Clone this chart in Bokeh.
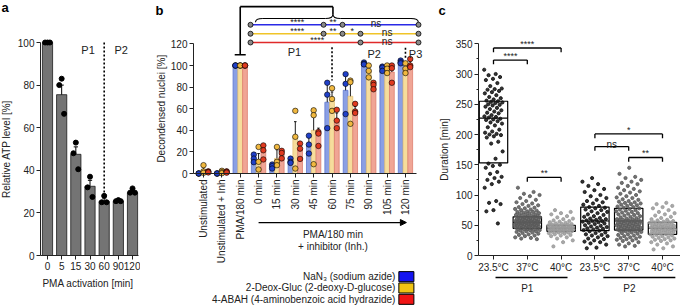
import math
from bokeh.plotting import figure
from bokeh.layouts import row
from bokeh.models import Range1d, FixedTicker, LinearAxis, Arrow, NormalHead, Grid
from bokeh.embed import file_html
from bokeh.resources import INLINE
from bokeh.core.properties import value

FONT = "Liberation Sans"

# ---------------- Panel a data ----------------
atp_cats = ["0", "5", "15", "30", "60", "90", "120"]
atp_mean = [100, 75.5, 47.5, 32.5, 25.5, 25.5, 29.5]
atp_sem = [0.4, 4.5, 3.5, 2.8, 1.5, 0.4, 1.0]
atp_pts = [[100, 100, 100], [83, 80, 66.5], [53, 48, 40.5], [37, 32, 27.5],
           [28, 25, 25], [26, 25.5, 25.5], [31.5, 29.5, 29.5]]

# ---------------- Panel b data ----------------
b_cats = ["Unstimulated", "Unstimulated + Inh", "PMA/180 min", "0 min", "15 min",
          "30 min", "45 min", "60 min", "75 min", "90 min", "105 min", "120 min"]
b_series = ["NaN\u2083 (sodium azide)", "2-Deox-Gluc (2-deoxy-D-glucose)",
            "4-ABAH (4-aminobenzoic acid hydrazide)"]
nan3_mean = [0, 0, 100, 13, 6.5, 11, 26, 66, 77, 101, 97, 103]
nan3_err = [0, 0, 0, 4, 2, 2, 8, 18, 15, 1, 2, 1]
nan3_pts = [[0, 0, 0], [0, 0, 0], [100, 100, 100], [17.5, 13.8, 10.5], [8.3, 6.8, 4.6],
            [13.8, 10.8, 9.8], [35, 26.8, 18.5], [84, 73, 42], [92, 83, 55],
            [102.8, 101.5, 101], [99, 98, 95], [104.6, 103, 102]]
deox_mean = [3, 1.5, 100, 10.5, 14, 34, 40, 67.5, 71.5, 95, 97, 98]
deox_err = [3, 1, 0, 8, 8, 14, 14, 8, 15, 4, 3, 3]
deox_pts = [[7.7, 2, 0.6], [2.5, 1.2, 0.3], [100, 100, 100], [24.6, 10.8, 3.7],
            [24.6, 10.8, 7.7], [58, 34, 4.6], [58.5, 54, 8.6], [79, 69, 58],
            [86, 84.6, 46], [100, 95, 89], [100, 97, 93], [102, 97, 93]]
abah_mean = [1.5, 1.2, 100, 21, 18, 22.5, 37, 50, 58, 80, 94, 101]
abah_err = [0.3, 0.4, 0, 5, 3, 5, 5, 6, 4, 3, 6, 3]
abah_pts = [[2, 1.5, 1], [2, 1.5, 0.8], [100, 100, 100], [26, 21.5, 13], [21, 19, 14],
            [27.7, 23, 13.5], [38.5, 37, 25.5], [59, 49, 42], [64.5, 57.4, 56],
            [84, 82, 78], [100, 97.5, 84], [106, 100, 98.5]]

# significance rows (per inhibitor): circle positions and labels
sig_circles = [[2.56, 6.54, 7.57, 11.71],
               [2.56, 6.54, 7.57, 8.55, 11.71],
               [2.56, 8.55, 11.71]]
sig_labels = [[("****", 5.1), ("**", 7.05), ("ns", 9.4)],
              [("****", 5.1), ("**", 7.05), ("*", 8.1), ("ns", 10.0)],
              [("****", 6.2), ("ns", 10.0)]]

# ---------------- Panel c data ----------------
c_cats = ["23.5\u00b0C", "37\u00b0C", "40\u00b0C", "23.5\u00b0C", "37\u00b0C", "40\u00b0C"]
c_groups = ["P1", "P2"]
g1 = [307, 300, 298, 295, 292, 290, 285, 280, 276, 275, 274, 272, 270, 268, 265, 262, 260,
      258, 256, 255, 254, 253, 252, 250, 249, 248, 246, 244, 242, 240, 238, 236, 235, 232,
      230, 229, 228, 226, 225, 224, 222, 220, 218, 215, 212, 208, 205, 203, 201, 200, 199,
      197, 195, 188, 185, 172, 160, 152, 150, 148, 145, 138, 135, 130, 128, 125, 122, 118,
      112, 90, 87, 85, 75, 73, 53]
g2 = [112, 105, 102, 100, 98, 95, 92, 90, 88, 86, 85, 83, 82, 80, 79, 78, 77, 76, 75, 74,
      73, 72, 72, 71, 70, 70, 69, 68, 68, 67, 66, 66, 65, 65, 64, 64, 63, 63, 62, 62, 61,
      61, 60, 60, 60, 59, 59, 58, 58, 58, 57, 57, 57, 56, 56, 56, 55, 55, 55, 55, 54, 54,
      54, 53, 53, 53, 52, 52, 52, 51, 51, 51, 50, 50, 50, 49, 49, 49, 48, 48, 48, 47, 47,
      46, 46, 45, 45, 45, 44, 44, 43, 43, 42, 42, 41, 40, 40, 39, 38, 37, 36, 35, 34, 33,
      32, 30, 29, 28, 27]
g3 = [75, 72, 70, 68, 65, 63, 61, 60, 58, 57, 56, 55, 54, 53, 52, 52, 51, 51, 50, 50, 49,
      49, 48, 48, 48, 47, 47, 47, 46, 46, 46, 45, 45, 45, 45, 44, 44, 44, 43, 43, 43, 42,
      42, 42, 41, 41, 40, 40, 40, 39, 39, 38, 38, 37, 36, 35, 34, 33, 32, 30, 28, 25, 22, 15]
g4 = [128, 122, 118, 115, 110, 108, 105, 100, 98, 95, 92, 90, 88, 86, 84, 82, 80, 79, 78,
      76, 75, 73, 72, 70, 68, 67, 65, 64, 62, 61, 60, 59, 58, 57, 57, 56, 55, 54, 53, 52,
      50, 49, 48, 47, 46, 45, 44, 43, 42, 41, 40, 38, 37, 35, 34, 33, 32, 30, 28, 27, 25,
      23, 22, 20, 18, 13, 12]
g5 = [145, 135, 130, 128, 125, 122, 120, 118, 115, 112, 110, 108, 106, 104, 102, 100, 98,
      96, 95, 93, 92, 90, 89, 88, 87, 86, 85, 84, 83, 82, 81, 80, 79, 78, 77, 76, 75, 74,
      73, 72, 71, 70, 69, 68, 67, 66, 65, 64, 63, 62, 61, 60, 60, 59, 59, 58, 58, 57, 57,
      56, 56, 55, 55, 54, 54, 53, 53, 52, 52, 51, 51, 50, 50, 49, 49, 48, 48, 47, 47, 46,
      46, 45, 45, 44, 44, 43, 43, 42, 42, 41, 41, 40, 40, 39, 38, 37, 36, 35, 34, 33, 32,
      31, 30, 29, 28, 27, 26, 25, 24, 22, 20, 18, 16, 15]
g6 = [87, 85, 82, 80, 78, 75, 72, 70, 68, 66, 64, 62, 60, 59, 58, 57, 56, 55, 55, 54, 54,
      53, 52, 52, 51, 50, 50, 49, 49, 48, 48, 47, 47, 46, 46, 45, 45, 45, 44, 44, 43, 43,
      42, 42, 41, 41, 40, 40, 39, 39, 38, 37, 36, 36, 35, 35, 34, 33, 32, 31, 30, 29, 28,
      27, 26, 25, 24, 22, 20, 18, 15, 12, 10]
box_q1 = [153, 45, 40, 41, 42, 35]
box_med = [227, 55, 45, 57, 57, 45]
box_q3 = [255, 64, 50, 80, 78, 55]
c_pairs = [(0, 2), (0, 1), (1, 2), (3, 5), (3, 4), (4, 5)]
c_pair_y = [343, 323, 129, 201, 180, 162]
c_pair_txt = ["****", "****", "**", "*", "ns", "**"]

INK = "#222222"


def make_fig(width, xr, yr, y_at, yticks, ybounds, minor=None):
    p = figure(width=width, height=305, x_range=Range1d(*xr), y_range=Range1d(*yr),
               output_backend="svg", toolbar_location=None, y_axis_location=None,
               min_border_left=0, min_border_right=0, min_border_top=0, min_border_bottom=0)
    # drop every grid the figure created
    for g in p.select(type=Grid):
        g.grid_line_color = None
        g.minor_grid_line_color = None
        g.visible = False
    p.center = [r for r in p.center if not isinstance(r, Grid)]
    yax = LinearAxis(fixed_location=y_at, ticker=FixedTicker(ticks=yticks, minor_ticks=minor or []),
                     bounds=ybounds)
    p.add_layout(yax, "left")
    p.outline_line_color = None
    p.background_fill_color = "white"
    p.border_fill_color = "white"
    for ax in p.axis:
        ax.major_label_text_font = FONT
        ax.major_label_text_font_size = "10px"
        ax.major_label_text_color = INK
        ax.minor_tick_line_color = INK if (minor and ax is yax) else None
        ax.minor_tick_out = 2
        ax.minor_tick_in = 0
        ax.major_tick_in = 0
        ax.major_tick_out = 4
        ax.major_label_standoff = 2
        ax.axis_line_color = INK
        ax.major_tick_line_color = INK
    return p


def txt(p, x, y, s, size="10px", align="center", baseline="middle", angle=0, bold=False, color=INK):
    p.text(x=[x], y=[y], text=[s], text_font=value(FONT), text_font_size=size,
           text_align=align, text_baseline=baseline, angle=angle, text_color=color,
           text_font_style="bold" if bold else "normal")


def cat_xaxis(p, ticks, labels, bounds):
    ax = p.xaxis[0]
    ax.fixed_location = 0
    ax.ticker = FixedTicker(ticks=ticks)
    ax.major_label_overrides = {i: c for i, c in zip(ticks, labels)}
    ax.bounds = bounds


# =============== Panel a ===============
A_PX = 2.13
pa = make_fig(140, (-47 / 14.17, 93 / 14.17), (-50 / A_PX, 255 / A_PX), -7 / 14.17,
              [0, 20, 40, 60, 80, 100], (0, 100))
xa = list(range(len(atp_cats)))
pa.vbar(x=xa, top=atp_mean, width=0.72, fill_color="#747474", line_color="#1a1a1a", line_width=0.8)
a_top = [m + s for m, s in zip(atp_mean, atp_sem)]
pa.segment(x0=xa, y0=atp_mean, x1=xa, y1=a_top, line_color="black", line_width=1)
pa.segment(x0=[x - 0.15 for x in xa], y0=a_top, x1=[x + 0.15 for x in xa], y1=a_top,
           line_color="black", line_width=1)
off = [0, -0.17, 0.17]
px, py = [], []
for i, pts in enumerate(atp_pts):
    for k, v in enumerate(pts):
        px.append(i + off[k])
        py.append(v)
pa.scatter(x=px, y=py, size=5, color="black")
i60 = atp_cats.index("60")
pa.segment(x0=[i60], y0=[100], x1=[i60], y1=[29], line_color="black", line_width=1.6, line_dash="2 2")
txt(pa, 2.86, 96.5, "P1", size="11px")
txt(pa, 5.2, 96.5, "P2", size="11px")
cat_xaxis(pa, xa, atp_cats, (-7 / 14.17, 6.42))
txt(pa, 2.86, -28 / A_PX, "PMA activation [min]")
txt(pa, -41.5 / 14.17, 50, "Relative ATP level [%]", angle=math.pi / 2)
txt(pa, -46 / 14.17, 248 / A_PX, "a", size="13px", align="left", bold=True, color="black")

# =============== Panel b ===============
B_PX = 1.08  # pixels per % unit
pb = make_fig(296, (-63 / 18.36, 233 / 18.36), (-132 / B_PX, 173 / B_PX), -10 / 18.36,
              [0, 20, 40, 60, 80, 100, 120], (0, 120))
bar_fill = ["#8a9fe4", "#f6dd9c", "#f0a595"]
bar_line = ["#5f78cf", "#e3c277", "#dd7f6f"]
pt_fill = ["#2040c8", "#f0b840", "#e03a20"]
leg_fill = ["#1414f0", "#f0c414", "#f01414"]
means = [nan3_mean, deox_mean, abah_mean]
errs = [nan3_err, deox_err, abah_err]
ptss = [nan3_pts, deox_pts, abah_pts]
bw = 0.26
xb = list(range(len(b_cats)))
for k in range(3):
    xs = [i + (k - 1) * bw for i in xb]
    pb.vbar(x=xs, top=means[k], width=bw, fill_color=bar_fill[k], line_color=bar_line[k], line_width=0.8)
for k in range(3):
    xs = [i + (k - 1) * bw for i in xb]
    tops = [m + e for m, e in zip(means[k], errs[k])]
    pb.segment(x0=xs, y0=means[k], x1=xs, y1=tops, line_color="black", line_width=0.9)
    pb.segment(x0=[x - 0.07 for x in xs], y0=tops, x1=[x + 0.07 for x in xs], y1=tops,
               line_color="black", line_width=0.9)
for k in range(3):
    px, py = [], []
    for i, pts in enumerate(ptss[k]):
        for v in pts:
            px.append(i + (k - 1) * bw)
            py.append(v)
    pb.scatter(x=px, y=py, size=5.5, fill_color=pt_fill[k], line_color="black", line_width=0.6)

cat_xaxis(pb, xb, b_cats, (-10 / 18.36, 11.6))
pb.xaxis.major_label_orientation = math.pi / 2
txt(pb, -42 / 18.36, 60, "Decondensed nuclei [%]", angle=math.pi / 2)
txt(pb, -48 / 18.36, 163 / B_PX, "b", size="13px", align="left", bold=True, color="black")

# bracket from PMA/180 bar to the brace
ipma = b_cats.index("PMA/180 min")
i60b = b_cats.index("60 min")
i120 = b_cats.index("120 min")
M = i60b + 0.05
pb.segment(x0=[ipma - 0.3, ipma, ipma, M], y0=[110, 110, 154.5, 154.5],
           x1=[ipma + 0.3, ipma, M, M], y1=[110, 154.5, 154.5, 147.5],
           line_color="black", line_width=1.6)
L, R = 2.83, 11.7
yb, ye, yt = 143.5, 140.0, 147.5
pb.quadratic(x0=[L, M - 0.4, M, R - 0.4], y0=[ye, yb, yt, yb],
             x1=[L + 0.4, M, M + 0.4, R], y1=[yb, yt, yb, ye],
             cx=[L, M, M, R], cy=[yb, yb, yb, yb], line_color="black", line_width=1.1)
pb.segment(x0=[L + 0.4, M + 0.4], y0=[yb, yb], x1=[M - 0.4, R - 0.4], y1=[yb, yb],
           line_color="black", line_width=1.1)
sig_y = [137.7, 129.4, 121.3]
line_cols = ["#2a2ae6", "#f0c428", "#e02a2a"]
for k in range(3):
    cx = sig_circles[k]
    pb.segment(x0=[cx[0]], y0=[sig_y[k]], x1=[cx[-1]], y1=[sig_y[k]], line_color=line_cols[k], line_width=1.6)
    pb.scatter(x=cx, y=[sig_y[k]] * len(cx), size=5, fill_color="#8a8a8a", line_color="black", line_width=0.8)
    for s, xl in sig_labels[k]:
        if s == "ns":
            txt(pb, xl, sig_y[k] + 1.2, s, size="10px", baseline="alphabetic")
        else:
            txt(pb, xl, sig_y[k] + 2.5, s, size="9px", baseline="middle")
pb.segment(x0=[i60b, i120], y0=[117, 116.5], x1=[i60b, i120], y1=[86, 107],
           line_color="black", line_width=1.6, line_dash="2 2")
txt(pb, 4.95, 112.3, "P1", size="11px")
txt(pb, 9.3, 110.8, "P2", size="11px")
txt(pb, 11.55, 110.8, "P3", size="11px")
pb.add_layout(Arrow(end=NormalHead(size=6, fill_color="black", line_color="black"),
                    x_start=b_cats.index("0 min"), y_start=-45.4, x_end=i120 + 0.05, y_end=-45.4,
                    line_color="black", line_width=1.2))
txt(pb, M, -56.5, "PMA/180 min")
txt(pb, M, -67.6, "+ inhibitor (Inh.)")
leg_y = [-95.5, -106.0, -116.5]
for k in range(3):
    txt(pb, 10.45, leg_y[k], b_series[k], align="right")
pb.rect(x=[11.05] * 3, y=leg_y, width=0.82, height=9.3, fill_color=leg_fill, line_color="black", line_width=1)

# =============== Panel c ===============
C_PX = 0.605
pc = make_fig(244, (-57 / 33.8, 187 / 33.8), (-50 / C_PX, 255 / C_PX), -15 / 33.8,
              [0, 50, 100, 150, 200, 250, 300, 350], (0, 350),
              minor=[25, 75, 125, 175, 225, 275, 325])
groups = [g1, g2, g3, g4, g5, g6]
pt_cols = ["#111111", "#5a5a5a", "#9a9a9a", "#111111", "#5a5a5a", "#9a9a9a"]
widths = [0.55, 0.75, 0.75, 0.75, 0.75, 0.75]
xc = list(range(len(c_cats)))
pc.quad(left=[x - 0.42 for x in xc], right=[x + 0.42 for x in xc], bottom=box_q1, top=box_q3,
        fill_color=None, line_color="black", line_width=1.2)
pc.segment(x0=[x - 0.42 for x in xc], y0=box_med, x1=[x + 0.42 for x in xc], y1=box_med,
           line_color="black", line_width=1.2)
for gi, g in enumerate(groups):
    n = len(g)
    jx = [gi + ((j * 0.6180339887 + 0.13 * gi) % 1.0 - 0.5) * widths[gi] for j in range(n)]
    pc.scatter(x=jx, y=g, size=3.2, fill_color=pt_cols[gi], line_color=pt_cols[gi],
               fill_alpha=0.85, line_alpha=0.85)
for (a, b), yv, s in zip(c_pairs, c_pair_y, c_pair_txt):
    pc.segment(x0=[a, a, b], y0=[yv - 7, yv, yv], x1=[a, b, b], y1=[yv, yv, yv - 7],
               line_color="black", line_width=1.3)
    if s == "ns":
        txt(pc, (a + b) / 2, yv + 3, s, baseline="alphabetic")
    else:
        txt(pc, (a + b) / 2, yv + 7, s, size="9px", baseline="middle")
cat_xaxis(pc, xc, c_cats, (-15 / 33.8, 187 / 33.8))
pc.segment(x0=[0.06, 3.25], y0=[-36.4, -36.4], x1=[2.19, 5.38], y1=[-36.4, -36.4],
           line_color="black", line_width=1.6)
txt(pc, 1, -54.5, c_groups[0])
txt(pc, 4.02, -54.5, c_groups[1])
txt(pc, -49.5 / 33.8, 175, "Duration [min]", angle=math.pi / 2)
txt(pc, -55 / 33.8, 245 / C_PX, "c", size="13px", align="left", bold=True, color="black")

layout = row(pa, pb, pc)
open("out.html", "w").write(file_html(layout, INLINE, "chart"))
